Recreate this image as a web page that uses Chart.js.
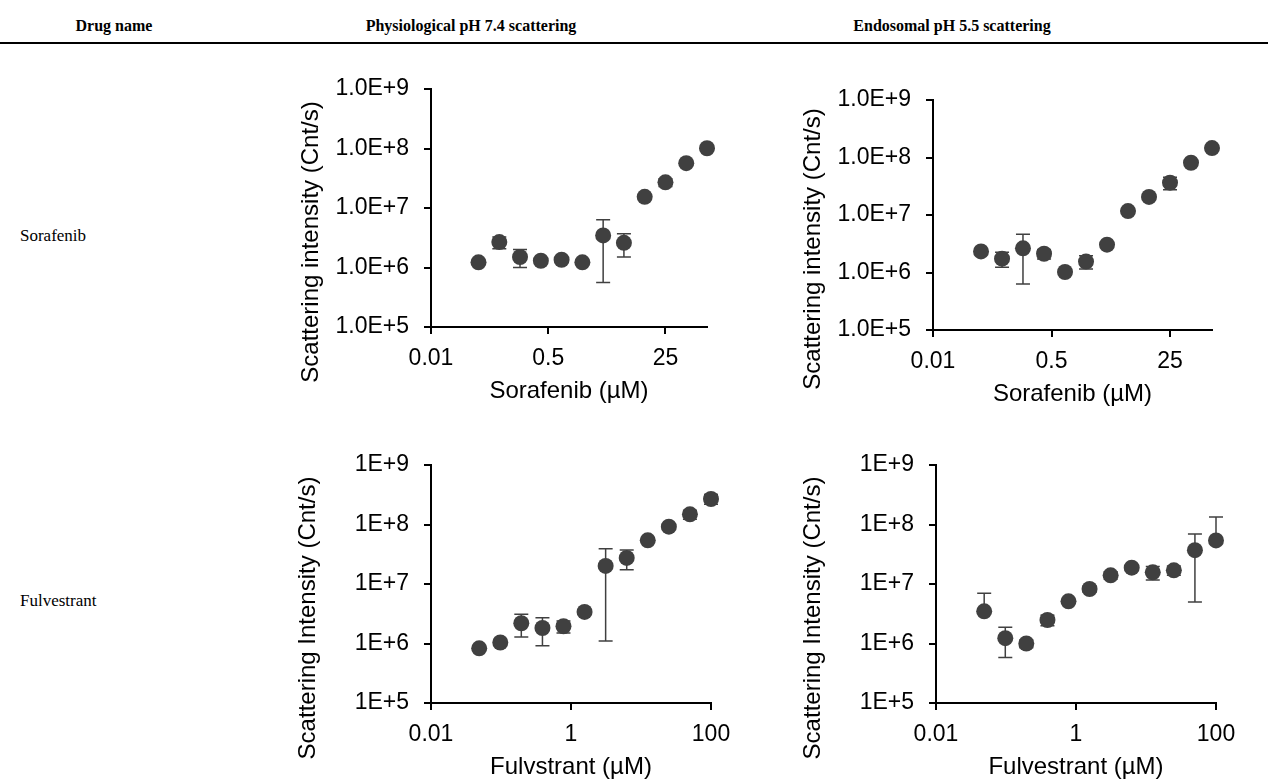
<!DOCTYPE html>
<html>
<head>
<meta charset="utf-8">
<script src="https://cdn.jsdelivr.net/npm/chart.js@4.4.0/dist/chart.umd.min.js"></script>
<style>
    body { margin: 0; background: #fff; width: 1268px; height: 780px; position: relative; overflow: hidden;
           font-family: 'Liberation Serif', 'Times New Roman', serif; color: #000; }
    .hd { position: absolute; top: 17px; font-weight: bold; font-size: 16px; transform: translateX(-50%); white-space: nowrap; }
    .rule { position: absolute; left: 0; top: 42px; width: 1268px; height: 2px; background: #000; }
    .rowlabel { position: absolute; left: 20px; font-size: 17px; }
    canvas { position: absolute; }
</style>
</head>
<body>
<div class="hd" style="left:114px">Drug name</div>
<div class="hd" style="left:471px">Physiological pH 7.4 scattering</div>
<div class="hd" style="left:952px">Endosomal pH 5.5 scattering</div>
<div class="rule"></div>
<div class="rowlabel" style="top:226px">Sorafenib</div>
<div class="rowlabel" style="top:591px">Fulvestrant</div>

<canvas id="sor74"></canvas>
<canvas id="sor55"></canvas>
<canvas id="ful74"></canvas>
<canvas id="ful55"></canvas>

<script>
/* ---- data ---- */
const concentrations = [0.0488, 0.0977, 0.195, 0.391, 0.781, 1.5625, 3.125, 6.25, 12.5, 25, 50, 100];

const yTicks = [1e5, 1e6, 1e7, 1e8, 1e9];
const yTickLabelsSor = ['1.0E+5', '1.0E+6', '1.0E+7', '1.0E+8', '1.0E+9'];
const yTickLabelsFul = ['1E+5', '1E+6', '1E+7', '1E+8', '1E+9'];

const xTicksSor = [0.01, 0.5, 25];
const xTickLabelsSor = ['0.01', '0.5', '25'];
const xTicksFul = [0.01, 1, 100];
const xTickLabelsFul = ['0.01', '1', '100'];

const sor74Values = [1.22e6, 2.67e6, 1.5e6, 1.3e6, 1.35e6, 1.22e6, 3.46e6, 2.6e6, 1.54e7, 2.7e7, 5.66e7, 1.01e8];
const sor74Errors = [0.1e6, 0.6e6, 0.5e6, 0.1e6, 0.1e6, 0.1e6, 2.9e6, 1.1e6, 1e6, 4e6, 4e6, 5e6];

const sor55Values = [2.33e6, 1.74e6, 2.63e6, 2.12e6, 1.02e6, 1.55e6, 3.05e6, 1.17e7, 2.06e7, 3.65e7, 8.1e7, 1.46e8];
const sor55Errors = [0.2e6, 0.5e6, 2.0e6, 0.4e6, 0.05e6, 0.4e6, 0.2e6, 0.5e6, 1e6, 9e6, 5e6, 8e6];

const ful74Values = [8.3e5, 1.04e6, 2.19e6, 1.82e6, 1.95e6, 3.39e6, 2.01e7, 2.74e7, 5.42e7, 9.2e7, 1.48e8, 2.68e8];
const ful74Errors = [0.5e5, 0.05e6, 0.9e6, 0.9e6, 0.45e6, 0.2e6, 1.9e7, 1.0e7, 3e6, 8e6, 2.5e7, 5e7];

const ful55Values = [3.47e6, 1.23e6, 1.0e6, 2.48e6, 5.12e6, 8.24e6, 1.4e7, 1.88e7, 1.57e7, 1.7e7, 3.7e7, 5.4e7];
const ful55Errors = [3.5e6, 0.65e6, 0.15e6, 0.5e6, 0.3e6, 1e6, 2e6, 1.5e6, 4e6, 3e6, 3.2e7, 8e7];

const MARK = '#404040';
Chart.defaults.font.family = "'Liberation Sans', Arial, sans-serif";

// vertical error bars, drawn under the markers
const errorBarPlugin = {
    id: 'errorBars',
    beforeDatasetsDraw(chart, args, opts) {
        const { ctx, scales: { x, y } } = chart;
        const pts = chart.data.datasets[0].data;
        const cap = 7;
        ctx.save();
        ctx.strokeStyle = MARK;
        ctx.lineWidth = 1.5;
        pts.forEach((p, i) => {
            const e = opts.errors[i] || 0;
            if (!e) return;
            const px = x.getPixelForValue(p.x);
            const yc = y.getPixelForValue(p.y);
            const yHi = y.getPixelForValue(p.y + e);
            const yLo = p.y - e > 0 ? y.getPixelForValue(p.y - e) : null;
            ctx.beginPath();
            ctx.moveTo(px, yHi);
            ctx.lineTo(px, yLo !== null ? yLo : yc);
            ctx.moveTo(px - cap, yHi);
            ctx.lineTo(px + cap, yHi);
            if (yLo !== null) {
                ctx.moveTo(px - cap, yLo);
                ctx.lineTo(px + cap, yLo);
            }
            ctx.stroke();
        });
        ctx.restore();
    }
};

// y title placed off-centre like the original (shifted down along the axis)
const yTitlePlugin = {
    id: 'yTitle',
    afterDraw(chart, args, opts) {
        const { ctx, chartArea } = chart;
        ctx.save();
        ctx.translate(chartArea.left - opts.offsetX, (chartArea.top + chartArea.bottom) / 2 + opts.shiftY);
        ctx.rotate(-Math.PI / 2);
        ctx.font = "24px 'Liberation Sans', Arial, sans-serif";
        ctx.fillStyle = '#000';
        ctx.textAlign = 'center';
        ctx.textBaseline = 'middle';
        ctx.fillText(opts.text, 0, 0);
        ctx.restore();
    }
};

function makeChart(id, area, cfg) {
    const canvas = document.getElementById(id);
    const padL = 180, padT = 40, padR = 50, padB = 85;
    const w = area.right - area.left + padL + padR;
    const h = area.bottom - area.top + padT + padB;
    canvas.width = w;
    canvas.height = h;
    canvas.style.left = (area.left - padL) + 'px';
    canvas.style.top = (area.top - padT) + 'px';
    canvas.style.width = w + 'px';
    canvas.style.height = h + 'px';

    return new Chart(canvas.getContext('2d'), {
        type: 'scatter',
        data: {
            datasets: [{
                data: concentrations.map((c, i) => ({ x: c, y: cfg.values[i] })),
                backgroundColor: MARK,
                borderWidth: 0,
                pointRadius: 8,
                pointHoverRadius: 8,
                clip: false
            }]
        },
        options: {
            responsive: false,
            animation: false,
            devicePixelRatio: 1,
            layout: { padding: { left: 0, top: padT, right: padR, bottom: 0 } },
            plugins: {
                legend: { display: false },
                tooltip: { enabled: false },
                errorBars: { errors: cfg.errors },
                yTitle: { text: cfg.yTitle, offsetX: cfg.titleOffsetX, shiftY: 34 }
            },
            scales: {
                x: {
                    type: 'logarithmic',
                    min: 0.01,
                    max: 100,
                    afterFit: s => { s.height = padB; },
                    afterBuildTicks: s => { s.ticks = cfg.xTicks.map(v => ({ value: v })); },
                    ticks: {
                        callback: (v, i) => cfg.xTickLabels[i],
                        font: { size: 23 }, color: '#000', padding: 11,
                        maxRotation: 0, autoSkip: false
                    },
                    grid: { drawOnChartArea: false, drawTicks: true, tickLength: 7, color: '#000', lineWidth: 2 },
                    border: { color: '#000', width: 2 },
                    title: { display: true, text: cfg.xTitle, font: { size: 24 }, color: '#000', padding: { top: 0, bottom: 6 } }
                },
                y: {
                    type: 'logarithmic',
                    min: 1e5,
                    max: 1e9,
                    afterFit: s => { s.width = padL; },
                    afterBuildTicks: s => { s.ticks = yTicks.map(v => ({ value: v })); },
                    ticks: {
                        callback: (v, i) => cfg.yTickLabels[i],
                        font: { size: 23 }, color: '#000', padding: 15, autoSkip: false
                    },
                    grid: { drawOnChartArea: false, drawTicks: true, tickLength: 7, color: '#000', lineWidth: 2 },
                    border: { color: '#000', width: 2 }
                }
            }
        },
        plugins: [errorBarPlugin, yTitlePlugin]
    });
}

makeChart('sor74', { left: 431, top: 89, right: 707, bottom: 327 }, {
    values: sor74Values, errors: sor74Errors,
    xTicks: xTicksSor, xTickLabels: xTickLabelsSor, yTickLabels: yTickLabelsSor,
    xTitle: 'Sorafenib (µM)', yTitle: 'Scattering intensity (Cnt/s)', titleOffsetX: 120
});
makeChart('sor55', { left: 933, top: 100, right: 1212, bottom: 330 }, {
    values: sor55Values, errors: sor55Errors,
    xTicks: xTicksSor, xTickLabels: xTickLabelsSor, yTickLabels: yTickLabelsSor,
    xTitle: 'Sorafenib (µM)', yTitle: 'Scattering intensity (Cnt/s)', titleOffsetX: 120
});
makeChart('ful74', { left: 431, top: 465, right: 711, bottom: 703 }, {
    values: ful74Values, errors: ful74Errors,
    xTicks: xTicksFul, xTickLabels: xTickLabelsFul, yTickLabels: yTickLabelsFul,
    xTitle: 'Fulvstrant (µM)', yTitle: 'Scattering Intensity (Cnt/s)', titleOffsetX: 123
});
makeChart('ful55', { left: 936, top: 465, right: 1216, bottom: 703 }, {
    values: ful55Values, errors: ful55Errors,
    xTicks: xTicksFul, xTickLabels: xTickLabelsFul, yTickLabels: yTickLabelsFul,
    xTitle: 'Fulvestrant (µM)', yTitle: 'Scattering Intensity (Cnt/s)', titleOffsetX: 123
});
</script>
</body>
</html>
